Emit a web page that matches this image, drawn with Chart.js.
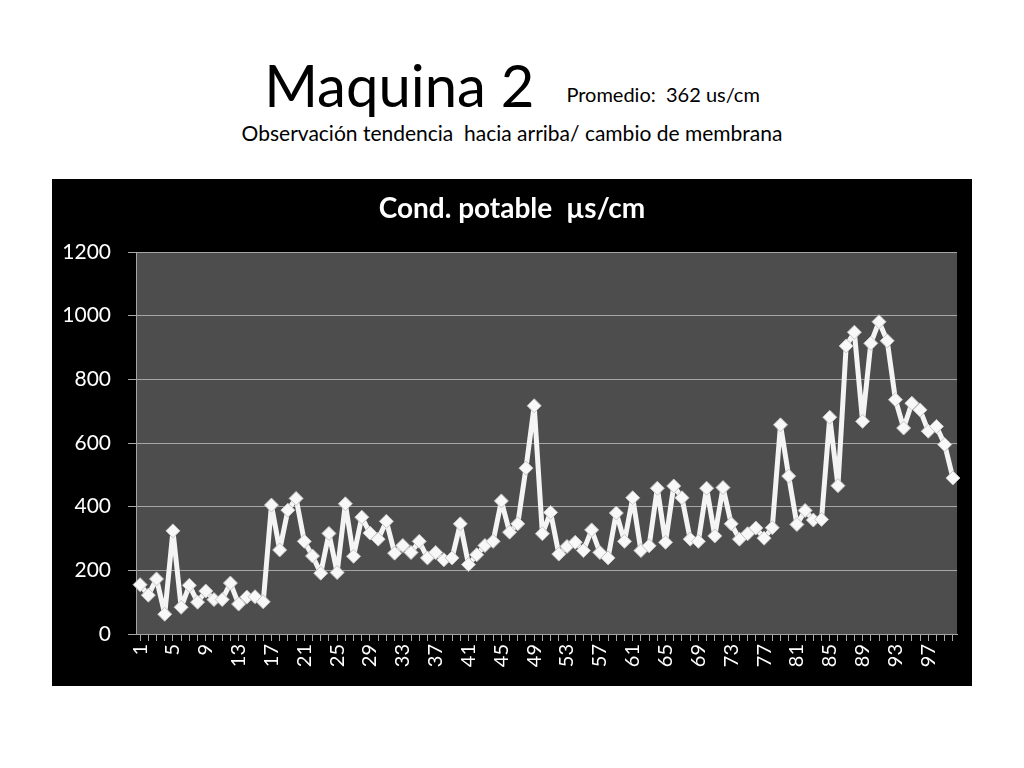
<!DOCTYPE html>
<html>
<head>
<meta charset="utf-8">
<script src="https://cdn.jsdelivr.net/npm/chart.js@4"></script>
<style>
    body { margin: 0; background: #fff; width: 1024px; height: 768px; overflow: hidden; font-family: 'Lato', 'Open Sans', sans-serif; }
    #titulo { position: absolute; left: 0; width: 1024px; top: 56px; text-align: center; white-space: pre; line-height: 1; }
    #titulo .grande { font-size: 58px; }
    #titulo .chico { font-size: 20px; margin-left: 32px; vertical-align: 5px; }
    #sub { position: absolute; left: 0; width: 1024px; top: 120px; text-align: center; font-size: 21px; white-space: pre; }
    #caja { position: absolute; left: 52px; top: 179px; width: 920px; height: 507px; background: #000; }
</style>
</head>
<body>
<div id="titulo"><span class="grande">Maquina 2</span><span class="chico">Promedio:  362 us/cm</span></div>
<div id="sub">Observación tendencia  hacia arriba/ cambio de membrana</div>
<div id="caja"><canvas id="grafico" width="920" height="507"></canvas></div>

<script>
// Muestras 1..100
const muestras = [];
for (let i = 1; i <= 100; i++) muestras.push(String(i));

// Conductividad potable (us/cm)
const conductividad = [
    155, 122, 173, 62, 324, 84, 153, 100, 135, 108,
    108, 160, 94, 116, 117, 101, 405, 264, 389, 426,
    291, 245, 191, 316, 193, 409, 244, 367, 317, 298,
    354, 254, 278, 256, 291, 239, 256, 233, 239, 346,
    218, 249, 278, 291, 418, 320, 346, 521, 717, 315,
    382, 251, 275, 288, 262, 327, 256, 239, 380, 291,
    428, 262, 277, 458, 288, 465, 428, 298, 291, 458,
    308, 460, 346, 298, 315, 333, 301, 334, 657, 496,
    344, 388, 358, 360, 681, 466, 905, 948, 668, 913,
    981, 921, 736, 647, 725, 704, 637, 652, 595, 490
];

const ejeY = [0, 200, 400, 600, 800, 1000, 1200];

// fondo gris del area de trazado
const fondoArea = {
    id: 'fondoArea',
    beforeDraw(chart) {
        const a = chart.chartArea;
        const ctx = chart.ctx;
        ctx.save();
        ctx.fillStyle = '#4d4d4d';
        ctx.fillRect(a.left, a.top, a.right - a.left, a.bottom - a.top);
        ctx.restore();
    }
};

document.addEventListener("DOMContentLoaded", function() {
    const ctx = document.getElementById('grafico').getContext('2d');

    new Chart(ctx, {
        type: 'line',
        data: {
            labels: muestras,
            datasets: [{
                label: 'Cond. potable',
                data: conductividad,
                borderColor: '#f4f4f4',
                borderWidth: 5,
                borderJoinStyle: 'round',
                pointStyle: 'rectRot',
                pointRadius: 7,
                pointBackgroundColor: '#f8f8f8',
                pointBorderColor: '#c4c4c4',
                pointBorderWidth: 1,
                tension: 0
            }]
        },
        options: {
            responsive: false,
            animation: false,
            layout: { padding: 0 },
            scales: {
                x: {
                    offset: true,
                    grid: { drawOnChartArea: false, offset: false, color: '#a6a6a6', tickLength: 7 },
                    border: { color: '#a6a6a6' },
                    ticks: {
                        color: '#fff',
                        autoSkip: false,
                        minRotation: 90,
                        maxRotation: 90,
                        padding: 3,
                        font: { family: "'Lato', sans-serif", size: 20 },
                        callback: function(v, i) { return i % 4 === 0 ? muestras[i] : ''; }
                    },
                    afterFit: function(s) { s.height = 52; s.paddingLeft = 0; s.paddingRight = 0; }
                },
                y: {
                    min: ejeY[0],
                    max: ejeY[ejeY.length - 1],
                    afterBuildTicks: function(s) { s.ticks = ejeY.map(v => ({ value: v })); },
                    grid: { color: '#a6a6a6', tickLength: 8 },
                    border: { color: '#a6a6a6' },
                    ticks: {
                        color: '#fff',
                        padding: 17,
                        font: { family: "'Lato', sans-serif", size: 21 },
                        callback: function(v) { return String(v); }
                    },
                    afterFit: function(s) { s.width = 84; s.paddingTop = 0; s.paddingBottom = 0; }
                },
                // margen derecho, sin marcas
                margen: {
                    type: 'linear',
                    position: 'right',
                    display: true,
                    grid: { display: false, drawTicks: false },
                    border: { display: false },
                    ticks: { display: false },
                    afterFit: function(s) { s.width = 15; }
                }
            },
            plugins: {
                legend: { display: false },
                tooltip: { enabled: false },
                title: {
                    display: true,
                    text: 'Cond. potable  µs/cm',
                    color: '#fff',
                    font: { family: "'Lato', sans-serif", size: 28, weight: 'bold', lineHeight: 1.2 },
                    padding: { top: 13, bottom: 26.4 }
                }
            }
        },
        plugins: [fondoArea]
    });
});
</script>
</body>
</html>
